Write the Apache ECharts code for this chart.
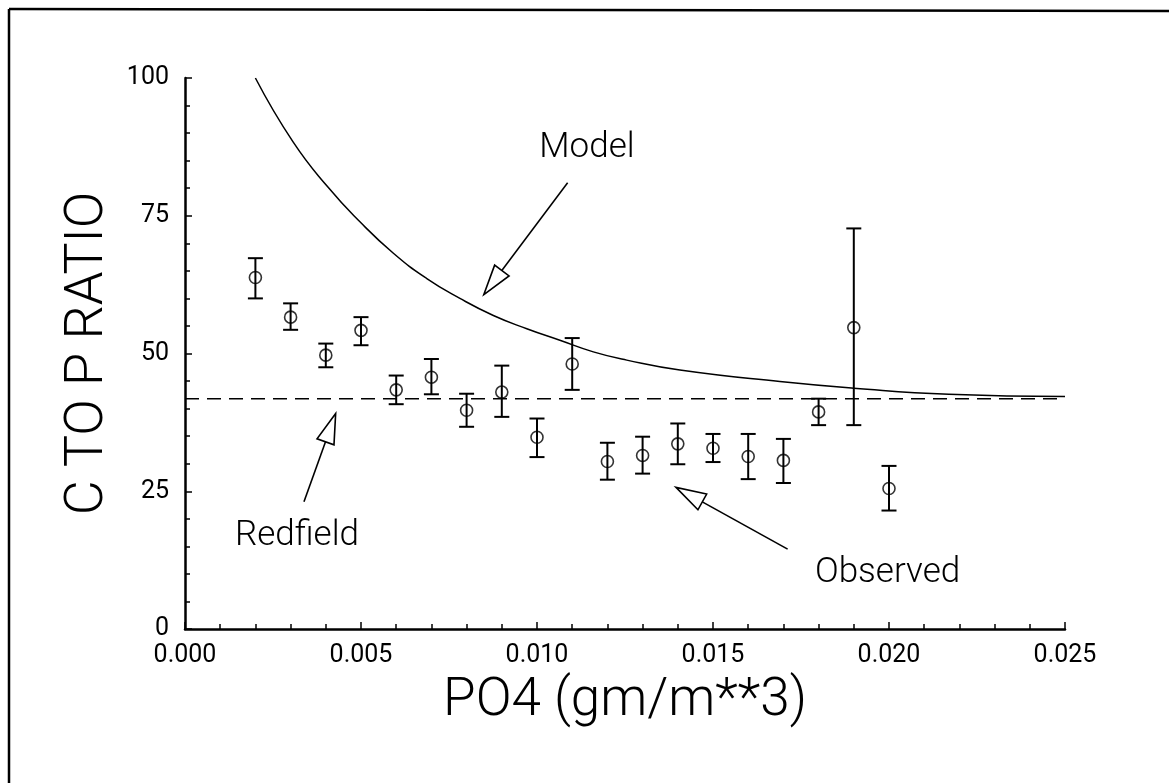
<!DOCTYPE html>
<html>
<head>
<meta charset="utf-8">
<script src="https://cdn.jsdelivr.net/npm/echarts@6/dist/echarts.min.js"></script>
<style>
  html, body { margin: 0; padding: 0; background: #fff; }
  #main { width: 1169px; height: 783px; }
</style>
</head>
<body>
<div id="main"></div>
<script>
// ---- Data ----
const xTicks = [0.000, 0.005, 0.010, 0.015, 0.020, 0.025];
const yTicks = [0, 25, 50, 75, 100];

const obsX    = [0.002, 0.003, 0.004, 0.005, 0.006, 0.007, 0.008, 0.009, 0.010, 0.011, 0.012, 0.013, 0.014, 0.015, 0.016, 0.017, 0.018, 0.019, 0.020];
const obsMean = [63.8, 56.6, 49.7, 54.2, 43.4, 45.7, 39.7, 43.0, 34.8, 48.1, 30.4, 31.5, 33.6, 32.8, 31.3, 30.6, 39.4, 54.7, 25.5];
const obsLow  = [60.0, 54.3, 47.5, 51.5, 40.8, 42.6, 36.7, 38.5, 31.2, 43.4, 27.1, 28.2, 29.9, 30.3, 27.2, 26.5, 37.0, 37.0, 21.5];
const obsHigh = [67.3, 59.1, 51.8, 56.6, 46.0, 49.0, 42.7, 47.8, 38.2, 52.8, 33.8, 34.9, 37.3, 35.4, 35.4, 34.5, 41.8, 72.7, 29.6];

const modelX = [0.0020, 0.00307, 0.00406, 0.00497, 0.00592, 0.00687, 0.00781, 0.00876, 0.00971, 0.01065, 0.0116, 0.01255, 0.01406, 0.0169, 0.0190, 0.0217, 0.0250];
const modelY = [100.0, 88.4, 80.2, 73.9, 68.2, 63.6, 60.0, 56.9, 54.5, 52.4, 50.3, 48.8, 47.0, 44.9, 43.7, 42.6, 42.2];

const redfieldX = [0.0, 0.025];
const redfieldY = [41.8, 41.8];

// annotations (data coordinates)
const annLabels = ['Model', 'Redfield', 'Observed'];
const annTextPos = [[0.01142, 87.3], [0.00318, 16.9], [0.01996, 10.2]];
const annTail = [[0.01087, 81.0], [0.00338, 23.1], [0.01712, 14.5]];
const annTip  = [[0.00849, 60.7], [0.00428, 39.1], [0.01395, 25.7]];

// ---- Build chart ----
const FONT = 'Roboto, "DejaVu Sans", sans-serif';
const chart = echarts.init(document.getElementById('main'), null, { renderer: 'canvas' });

const errData = obsX.map((x, i) => [x, obsLow[i], obsHigh[i]]);
const obsData = obsX.map((x, i) => [x, obsMean[i]]);
const modelData = modelX.map((x, i) => [x, modelY[i]]);
const redData = redfieldX.map((x, i) => [x, redfieldY[i]]);

const option = {
  animation: false,
  backgroundColor: '#ffffff',
  grid: { left: 185, right: 104, top: 78, bottom: 154, containLabel: false },
  xAxis: {
    type: 'value',
    min: xTicks[0], max: xTicks[xTicks.length - 1],
    interval: xTicks[1] - xTicks[0],
    name: 'PO4 (gm/m**3)',
    nameLocation: 'middle',
    nameGap: 46,
    nameTextStyle: { fontFamily: FONT, fontWeight: 300, fontSize: 53, color: '#000' },
    axisLine: { show: true, onZero: false, lineStyle: { color: '#000', width: 2.5 } },
    axisTick: { show: true, inside: true, length: 7, lineStyle: { color: '#000', width: 1.5 } },
    minorTick: { show: true, splitNumber: 5, length: 5, lineStyle: { color: '#000', width: 1.5 } },
    axisLabel: { fontFamily: FONT, fontSize: 25, color: '#000', margin: 14,
                 formatter: v => v.toFixed(3) },
    splitLine: { show: false }
  },
  yAxis: {
    type: 'value',
    min: yTicks[0], max: yTicks[yTicks.length - 1],
    interval: yTicks[1] - yTicks[0],
    name: 'C TO P RATIO',
    nameLocation: 'middle',
    nameRotate: 90,
    nameGap: 70,
    nameTextStyle: { fontFamily: FONT, fontWeight: 300, fontSize: 54, color: '#000' },
    axisLine: { show: true, onZero: false, lineStyle: { color: '#000', width: 2.5 } },
    axisTick: { show: true, inside: true, length: 7, lineStyle: { color: '#000', width: 1.5 } },
    minorTick: { show: true, splitNumber: 5, length: 5, lineStyle: { color: '#000', width: 1.5 } },
    axisLabel: { fontFamily: FONT, fontSize: 25, color: '#000', margin: 16 },
    splitLine: { show: false }
  },
  series: [
    {
      name: 'Redfield', type: 'line', data: redData, symbol: 'none',
      lineStyle: { color: '#000', width: 1.6, type: [14, 8] }, z: 2
    },
    {
      name: 'Model', type: 'line', data: modelData, symbol: 'none', smooth: 0.5,
      lineStyle: { color: '#000', width: 1.5 }, z: 3
    },
    {
      name: 'ErrorBars', type: 'custom', data: errData, z: 4,
      renderItem: function (params, api) {
        const x = api.value(0);
        const lo = api.coord([x, api.value(1)]);
        const hi = api.coord([x, api.value(2)]);
        const hw = 7.5;
        const st = { stroke: '#000', lineWidth: 2 };
        return {
          type: 'group',
          children: [
            { type: 'line', shape: { x1: lo[0], y1: lo[1], x2: hi[0], y2: hi[1] }, style: st },
            { type: 'line', shape: { x1: lo[0] - hw, y1: lo[1], x2: lo[0] + hw, y2: lo[1] }, style: st },
            { type: 'line', shape: { x1: hi[0] - hw, y1: hi[1], x2: hi[0] + hw, y2: hi[1] }, style: st }
          ]
        };
      }
    },
    {
      name: 'Observed', type: 'scatter', data: obsData, symbol: 'circle', symbolSize: 12, z: 5,
      itemStyle: { color: 'rgba(0,0,0,0)', borderColor: '#000', borderWidth: 1.6 }
    }
  ]
};
chart.setOption(option);

// ---- Annotations: arrows and labels, placed from data coordinates ----
const graphics = [];
// outer frame (left and top edges)
graphics.push({ type: 'line', shape: { x1: 9, y1: 9, x2: 9, y2: 783 }, style: { stroke: '#000', lineWidth: 2.5 } });
graphics.push({ type: 'line', shape: { x1: 9, y1: 9, x2: 1169, y2: 11 }, style: { stroke: '#000', lineWidth: 2.5 } });

for (let i = 0; i < annLabels.length; i++) {
  const tail = chart.convertToPixel({ gridIndex: 0 }, annTail[i]);
  const tip = chart.convertToPixel({ gridIndex: 0 }, annTip[i]);
  const dx = tail[0] - tip[0], dy = tail[1] - tip[1];
  const L = Math.sqrt(dx * dx + dy * dy);
  const ux = dx / L, uy = dy / L;
  const headLen = 30, halfW = 9;
  const bx = tip[0] + ux * headLen, by = tip[1] + uy * headLen;
  const px = -uy, py = ux;
  graphics.push({ type: 'line', shape: { x1: tail[0], y1: tail[1], x2: bx, y2: by },
                  style: { stroke: '#000', lineWidth: 1.6 } });
  graphics.push({ type: 'polygon',
                  shape: { points: [[tip[0], tip[1]], [bx + px * halfW, by + py * halfW], [bx - px * halfW, by - py * halfW]] },
                  style: { fill: '#fff', stroke: '#000', lineWidth: 1.6 } });
  const tp = chart.convertToPixel({ gridIndex: 0 }, annTextPos[i]);
  graphics.push({ type: 'text', x: tp[0], y: tp[1],
                  style: { text: annLabels[i], fontFamily: FONT, fontWeight: 300, fontSize: 35, fill: '#000',
                           align: 'center', verticalAlign: 'middle' } });
}
chart.setOption({ graphic: graphics });
</script>
</body>
</html>
